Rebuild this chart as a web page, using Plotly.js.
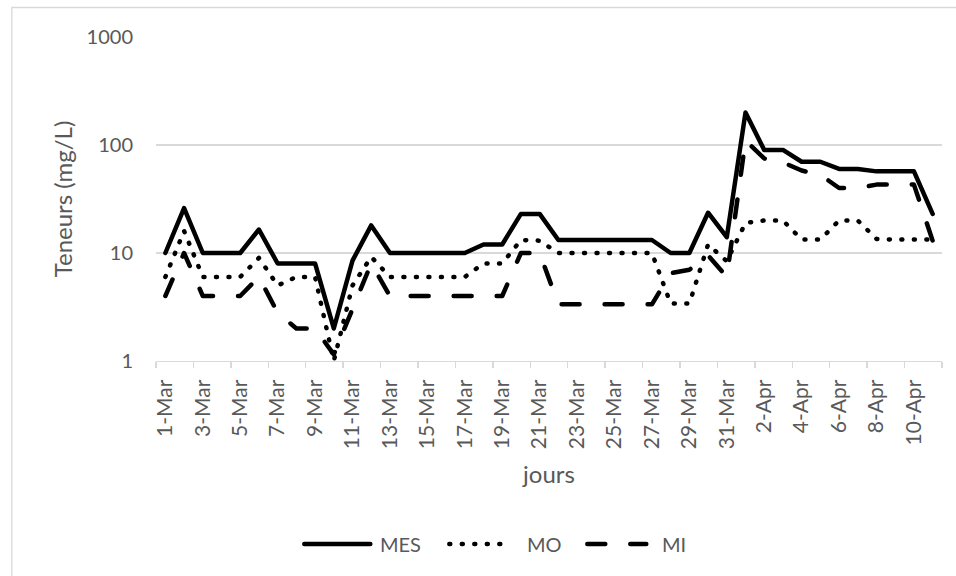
<!DOCTYPE html>
<html>
<head>
<meta charset="utf-8">
<script src="https://cdn.plot.ly/plotly-3.0.1.min.js"></script>
<style>
  html, body { margin: 0; padding: 0; background: #ffffff; }
  #chart { width: 956px; height: 576px; }
  #chart path.js-line, #chart .shapelayer path.legline { stroke-linecap: round !important; stroke-linejoin: round !important; }
</style>
</head>
<body>
<div id="chart"></div>
<script>
// ---- data ----
const DAYS = ['1-Mar','2-Mar','3-Mar','4-Mar','5-Mar','6-Mar','7-Mar','8-Mar','9-Mar','10-Mar',
  '11-Mar','12-Mar','13-Mar','14-Mar','15-Mar','16-Mar','17-Mar','18-Mar','19-Mar','20-Mar',
  '21-Mar','22-Mar','23-Mar','24-Mar','25-Mar','26-Mar','27-Mar','28-Mar','29-Mar','30-Mar',
  '31-Mar','1-Apr','2-Apr','3-Apr','4-Apr','5-Apr','6-Apr','7-Apr','8-Apr','9-Apr','10-Apr','11-Apr'];
const MES = [10,26,10,10,10,16.5,8,8,8,2,8.5,18,10,10,10,10,10,12,12,23,23,13.2,13.2,13.2,13.2,13.2,13.2,10,10,23.6,14,200,90,90,70,70,60,60,57,57,57,23];
const MO  = [6,16,6,6,6,9,5,6,6,1,5,9.2,6,6,6,6,6,8,8,13.2,13,10,10,10,10,10,10,3.4,3.4,12,8.4,19,20,20,13.3,13.3,20,20,13.5,13.3,13.3,13.3];
const MI  = [4,10,4,4,4,6,2.8,2,2,1.15,3,8,4,4,4,4,4,4,4,10,10,3.35,3.35,3.35,3.35,3.35,3.35,6.5,7,9.5,6,110,75,69,58,53,40,40,43,43,43,13];
const SERIES_NAMES = ['MES','MO','MI'];
const Y_TICKS = [1,10,100,1000];
const Y_TICKTEXT = ['1','10','100','1000'];
const X_TITLE = 'jours';
const Y_TITLE = 'Teneurs (mg/L)';

// ---- styles ----
const FONT = 'Lato, "Open Sans", sans-serif';
const GREY = '#595959';
const GRID = '#d9d9d9';
const DASHES = ['solid', '1px,11.5px', '18px,25px'];
const W = 4.5;

const L = 155.7, R = 941.7, T = 37, B = 361;
const PW = R - L, PH = B - T;
const px2x = p => (p - L) / PW;
const py2y = p => (B - p) / PH;

const data = [MES, MO, MI].map((vals, i) => ({
  type: 'scatter', mode: 'lines', x: DAYS, y: vals, name: SERIES_NAMES[i],
  line: {color: '#000000', width: W, dash: DASHES[i]},
  showlegend: false, hoverinfo: 'x+y+name'
}));

// custom legend (line samples + labels)
const legY = py2y(544);
const legItems = [
  {x0: 302, x1: 372, tx: 378},
  {x0: 447, x1: 510, tx: 525},
  {x0: 585, x1: 648, tx: 660}
];
const shapes = [{
  type: 'rect', xref: 'paper', yref: 'paper',
  x0: px2x(11.5), x1: px2x(990), y0: py2y(7.5), y1: py2y(620),
  line: {color: '#d9d9d9', width: 1.3}, fillcolor: 'rgba(0,0,0,0)', layer: 'below'
}];
const annotations = [];
legItems.forEach((it, i) => {
  shapes.push({
    type: 'line', xref: 'paper', yref: 'paper',
    x0: px2x(it.x0 + 2), x1: px2x(it.x1 - 2), y0: legY, y1: legY,
    line: {color: '#000000', width: W, dash: DASHES[i]}, name: 'leg' + i
  });
  annotations.push({
    xref: 'paper', yref: 'paper', x: px2x(it.tx), y: legY,
    xanchor: 'left', yanchor: 'middle', showarrow: false,
    text: SERIES_NAMES[i], font: {family: FONT, size: 20, color: GREY}
  });
});

const layout = {
  width: 956, height: 576,
  margin: {l: L, r: 956 - R, t: T, b: 576 - B, pad: 0},
  paper_bgcolor: '#ffffff', plot_bgcolor: '#ffffff',
  font: {family: FONT, size: 20, color: GREY},
  xaxis: {
    type: 'category', range: [-0.5, DAYS.length - 0.5],
    tickson: 'boundaries', dtick: 2, tickangle: -90,
    ticks: 'outside', ticklen: 6, tickcolor: GRID, tickwidth: 1.3,
    ticklabelstandoff: 9,
    showline: true, linecolor: GRID, linewidth: 1.3,
    showgrid: false, zeroline: false,
    tickfont: {family: FONT, size: 21, color: GREY},
    title: {text: X_TITLE, font: {family: FONT, size: 24, color: GREY}, standoff: 18}
  },
  yaxis: {
    type: 'log', range: [0, 3],
    tickvals: Y_TICKS, ticktext: Y_TICKTEXT,
    showgrid: true, gridcolor: GRID, gridwidth: 1.3,
    showline: false, zeroline: false, ticks: '',
    ticklabelstandoff: 22,
    tickfont: {family: FONT, size: 20, color: GREY},
    title: {text: Y_TITLE, font: {family: FONT, size: 24, color: GREY}, standoff: 7}
  },
  shapes: shapes,
  annotations: annotations,
  showlegend: false
};

Plotly.newPlot('chart', data, layout, {displayModeBar: false, staticPlot: true}).then(() => {
  document.querySelectorAll('#chart .shapelayer path').forEach((p, i) => {
    if (i > 0) p.classList.add('legline');
  });
});
</script>
</body>
</html>
